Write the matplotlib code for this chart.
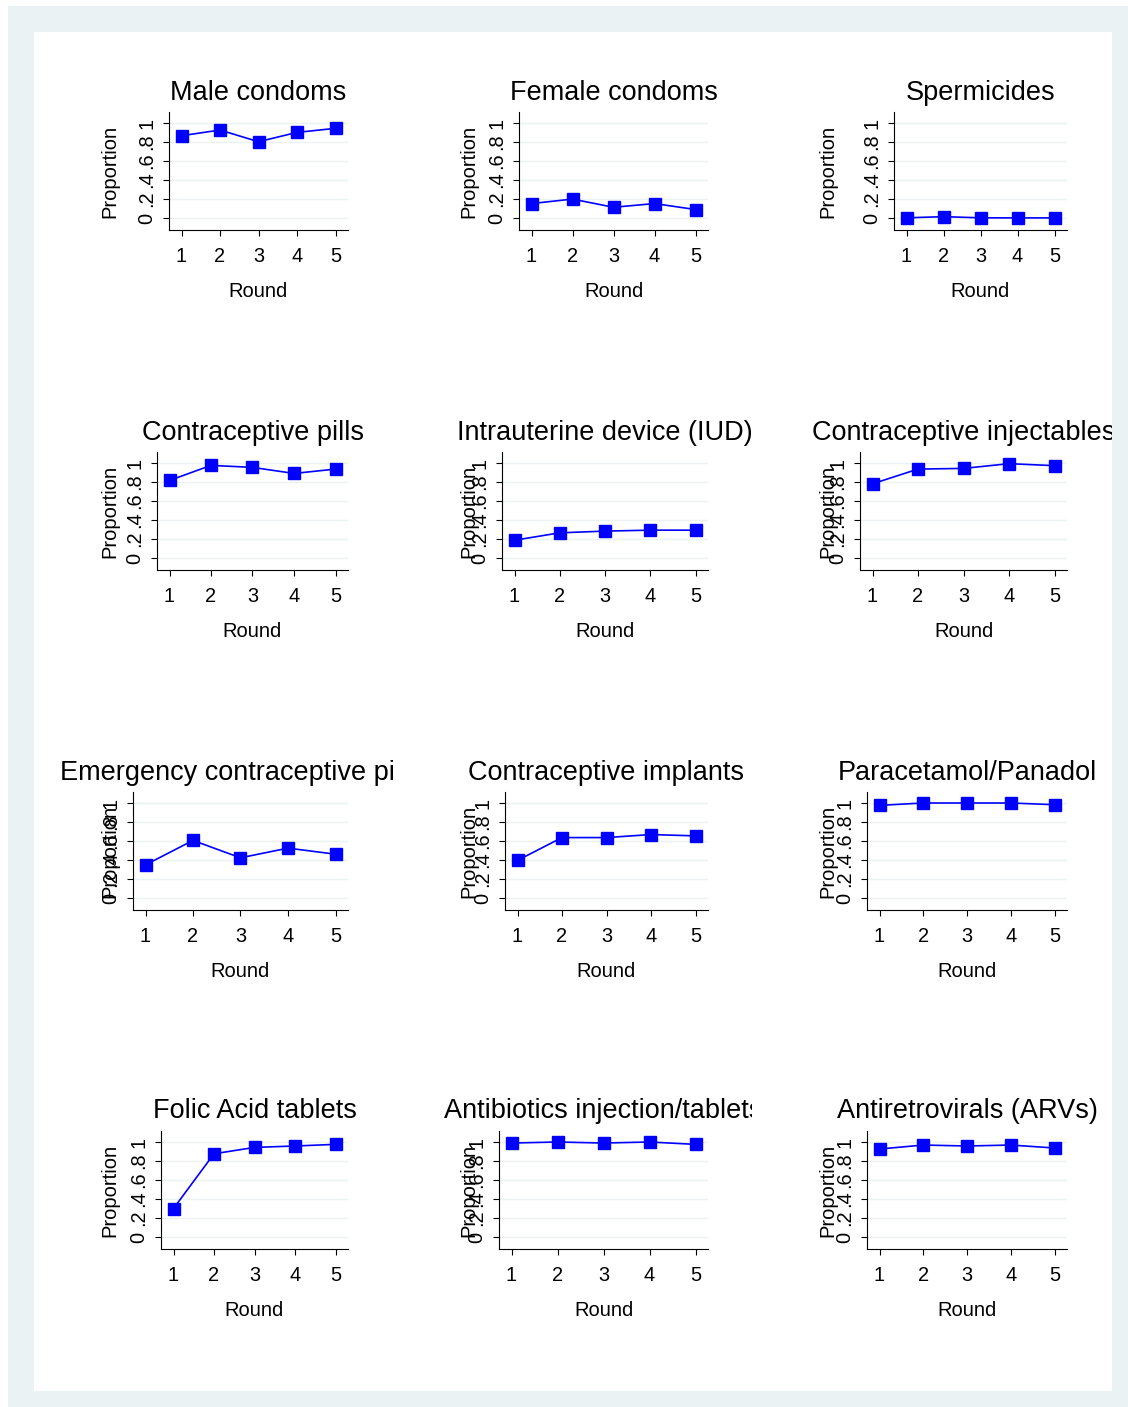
import matplotlib.pyplot as plt
from matplotlib.patches import Rectangle
from matplotlib.transforms import Bbox, TransformedBbox

plt.rcParams["font.family"] = ["Liberation Sans", "DejaVu Sans"]

W, H = 1128, 1407

rounds = [1, 2, 3, 4, 5]

titles = [
    "Male condoms", "Female condoms", "Spermicides",
    "Contraceptive pills", "Intrauterine device (IUD)", "Contraceptive injectables",
    "Emergency contraceptive pills", "Contraceptive implants", "Paracetamol/Panadol",
    "Folic Acid tablets", "Antibiotics injection/tablets", "Antiretrovirals (ARVs)",
]

male_condoms = [0.866, 0.926, 0.803, 0.901, 0.944]
female_condoms = [0.152, 0.199, 0.113, 0.152, 0.089]
spermicides = [0.002, 0.014, 0.002, 0.001, 0.001]
pills = [0.816, 0.975, 0.954, 0.890, 0.936]
iud = [0.187, 0.265, 0.283, 0.293, 0.293]
injectables = [0.781, 0.936, 0.943, 0.993, 0.972]
emergency = [0.349, 0.606, 0.423, 0.525, 0.461]
implants = [0.396, 0.636, 0.636, 0.668, 0.654]
paracetamol = [0.975, 1.0, 1.0, 1.0, 0.982]
folic_acid = [0.300, 0.876, 0.943, 0.958, 0.975]
antibiotics = [0.989, 1.0, 0.989, 1.0, 0.975]
arvs = [0.926, 0.968, 0.958, 0.968, 0.937]

series = [male_condoms, female_condoms, spermicides,
          pills, iud, injectables,
          emergency, implants, paracetamol,
          folic_acid, antibiotics, arvs]

yticks = [0, 0.2, 0.4, 0.6, 0.8, 1]
ytick_labels = ["0", ".2", ".4", ".6", ".8", "1"]

# layout in pixels (Stata graph combine look)
left_px = [[169, 519, 894], [157, 502, 860], [133, 505, 867], [161, 499, 867]]
right_px = [348, 708, 1067]
top_px = [112, 452, 792, 1131]
plot_h = 118
ylabel_x = [110, 469, 828]
cell_x = [34, 393, 752, 1112]

fig = plt.figure(figsize=(W / 100, H / 100), dpi=100)
fig.patches.append(Rectangle((8 / W, 0), 1 - 8 / W, 1 - 6 / H, transform=fig.transFigure,
                             facecolor="#eaf2f3", edgecolor="none", zorder=-3))
fig.patches.append(Rectangle((34 / W, 1 - 1391 / H), (1112 - 34) / W, (1391 - 32) / H,
                             transform=fig.transFigure, facecolor="white",
                             edgecolor="none", zorder=-2))

for i, (title, vals) in enumerate(zip(titles, series)):
    r, c = divmod(i, 3)
    l, rt = left_px[r][c], right_px[c]
    top = top_px[r]
    bot = top + plot_h
    ax = fig.add_axes([l / W, 1 - bot / H, (rt - l) / W, plot_h / H])
    ax.set_facecolor("none")

    scale = (rt - l - 25) / 4
    ax.set_xlim(1 - 12.5 / scale, 5 + 12.5 / scale)
    ax.set_ylim(-12 / 95, 1 + 11 / 95)

    ax.plot(rounds, vals, color="blue", lw=1.2, marker="s", ms=9,
            markeredgecolor="blue", clip_on=False, zorder=3)

    ax.set_xticks(rounds)
    ax.set_yticks(yticks, ytick_labels)
    for lbl in ax.get_yticklabels():
        lbl.set_rotation(90)
        lbl.set_va("center")
    ax.tick_params(axis="both", length=4.3, width=0.8, labelsize=14.4, color="black")
    ax.tick_params(axis="x", pad=8)
    ax.tick_params(axis="y", pad=4.8)
    ax.grid(axis="y", color="#eaf2f3", lw=1.0)
    ax.set_axisbelow(True)
    for s in ["top", "right"]:
        ax.spines[s].set_visible(False)
    for s in ["left", "bottom"]:
        ax.spines[s].set_linewidth(0.8)
        ax.spines[s].set_color("black")

    ax.set_xlabel("Round", fontsize=14.5, labelpad=11.5)
    fig.text(ylabel_x[c] / W, 1 - (top + bot) / 2 / H, "Proportion", rotation=90,
             ha="center", va="center", fontsize=14.5)

    t = ax.set_title(title, fontsize=19.5, pad=9)
    clip = TransformedBbox(Bbox([[cell_x[c] / W, 0], [cell_x[c + 1] / W, 1]]),
                           fig.transFigure)
    t.set_clip_box(clip)
    t.set_clip_on(True)

fig.savefig("out.png", dpi=100)
